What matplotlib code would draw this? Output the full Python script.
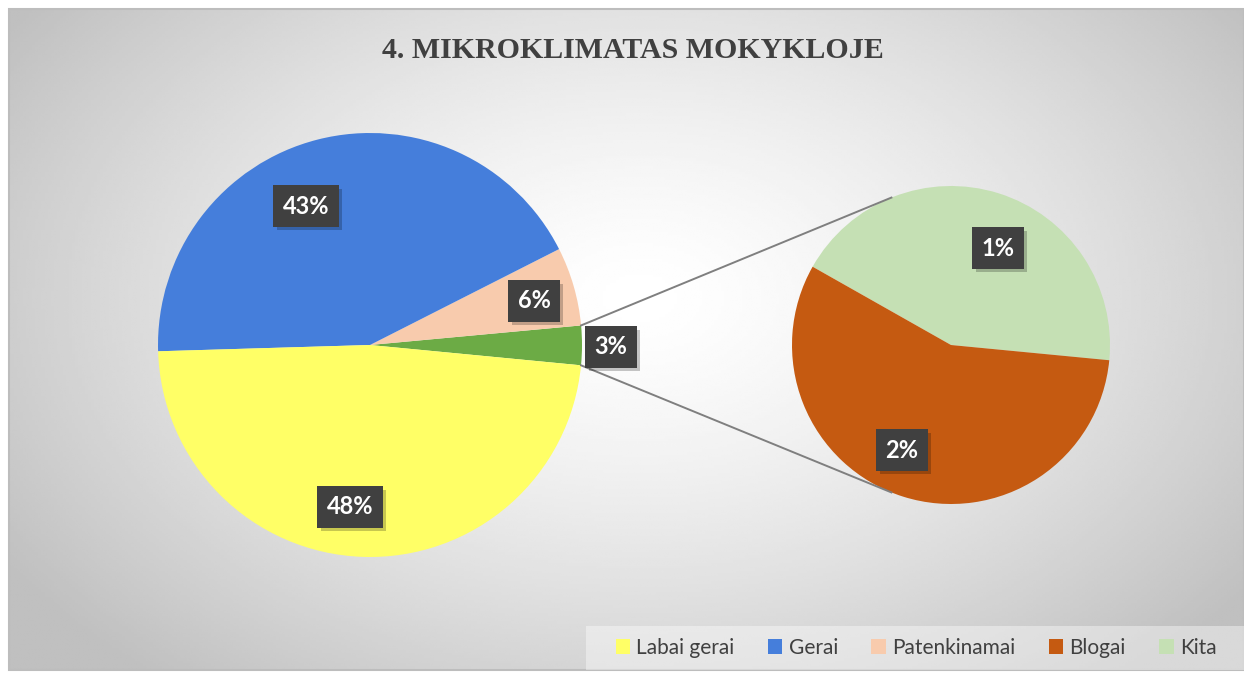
import numpy as np
import matplotlib
matplotlib.use("Agg")
import matplotlib.pyplot as plt
import matplotlib.patheffects as pe
from matplotlib.patches import Rectangle

# duomenys
pagr_kategorijos = ["Kita ir blogai", "Patenkinamai", "Gerai", "Labai gerai"]
pagr_reiksmes = [3, 6, 43, 48]
pagr_spalvos = ["#6CAB45", "#F8CBAD", "#457EDB", "#FFFF66"]

antr_kategorijos = ["Kita", "Blogai"]
antr_reiksmes = [1.3, 1.7]
antr_spalvos = ["#C5E0B4", "#C55A11"]

legendos_tvarka = ["Labai gerai", "Gerai", "Patenkinamai", "Blogai", "Kita"]
legendos_spalvos = ["#FFFF66", "#457EDB", "#F8CBAD", "#C55A11", "#C5E0B4"]

W, H = 1244, 678
fig = plt.figure(figsize=(W / 100, H / 100), dpi=100)
ax = fig.add_axes([0, 0, 1, 1])

# fonas su radialiniu gradientu
x0, y0, x1, y1 = 9, 8, W, H - 9
xx, yy = np.meshgrid(np.linspace(x0, x1, 400), np.linspace(y0, y1, 250))
t = np.sqrt(((xx - 640) / 760) ** 2 + ((yy - 380) / 500) ** 2)
t = np.clip(t, 0, 1)
v = 1.0 - 0.25 * t ** 1.4
ax.imshow(v, cmap="gray", vmin=0, vmax=1, extent=[x0, x1, y0, y1],
          origin="lower", aspect="auto", zorder=0, interpolation="bilinear")
ax.add_patch(Rectangle((x0, y0), x1 - x0, y1 - y0, fill=False,
                       edgecolor="#bdbdbd", lw=1.5, zorder=1))

c1 = (370, H - 345)
r1 = 212
c2 = (951, H - 345)
r2 = 159
start = -5.5

w1, _ = ax.pie(pagr_reiksmes, colors=pagr_spalvos, startangle=start,
               counterclock=True, center=c1, radius=r1, frame=True,
               wedgeprops=dict(linewidth=0))
w2, _ = ax.pie(antr_reiksmes, colors=antr_spalvos, startangle=start,
               counterclock=True, center=c2, radius=r2, frame=True,
               wedgeprops=dict(linewidth=0))
ax.set_xlim(0, W)
ax.set_ylim(0, H)
ax.axis("off")

# jungiamosios linijos
a_top = np.deg2rad(w1[0].theta2)
a_bot = np.deg2rad(w1[0].theta1)
for a1, a2 in [(a_top, np.deg2rad(112)), (a_bot, np.deg2rad(-112))]:
    ax.plot([c1[0] + r1 * np.cos(a1), c2[0] + r2 * np.cos(a2)],
            [c1[1] + r1 * np.sin(a1), c2[1] + r2 * np.sin(a2)],
            color="#7f7f7f", lw=1.4, zorder=3)

# žymės
zymes = [
    (pagr_reiksmes[1], 534, 301),
    (pagr_reiksmes[0], 611, 347),
    (pagr_reiksmes[2], 306, 206),
    (pagr_reiksmes[3], 350, 507),
    (antr_reiksmes[0], 998, 248),
    (antr_reiksmes[1], 902, 450),
]
for val, px, py in zymes:
    txt = ax.text(px, H - py, f"{val:.0f}%", ha="center", va="center",
                  fontsize=17, fontweight="bold", color="white",
                  family=["Lato", "DejaVu Sans"], zorder=5,
                  bbox=dict(boxstyle="square,pad=0.4", facecolor="#404040",
                            edgecolor="none"))
    txt.get_bbox_patch().set_path_effects(
        [pe.SimplePatchShadow(offset=(2.5, -2.5), shadow_rgbFace="black", alpha=0.22),
         pe.Normal()])

ax.text(633, H - 51, "4. MIKROKLIMATAS MOKYKLOJE", ha="center", va="center",
        fontsize=21.5, fontweight="bold", color="#404040",
        family="Liberation Serif", zorder=5)

# legenda
ax.add_patch(Rectangle((586, 8), W - 586, 44, facecolor="white", alpha=0.4,
                       edgecolor="none", zorder=4))
handles = [Rectangle((0, 0), 1, 1, facecolor=c, edgecolor="none")
           for c in legendos_spalvos]
leg = ax.legend(handles, legendos_tvarka, ncol=5, loc="center",
                bbox_to_anchor=(916 / W, 30 / H), frameon=False,
                prop=dict(family="Lato", size=15), labelcolor="#404040",
                handlelength=0.7, handleheight=0.7, handletextpad=0.3,
                columnspacing=1.6)
leg.set_zorder(6)

fig.savefig("out.png", dpi=100)
